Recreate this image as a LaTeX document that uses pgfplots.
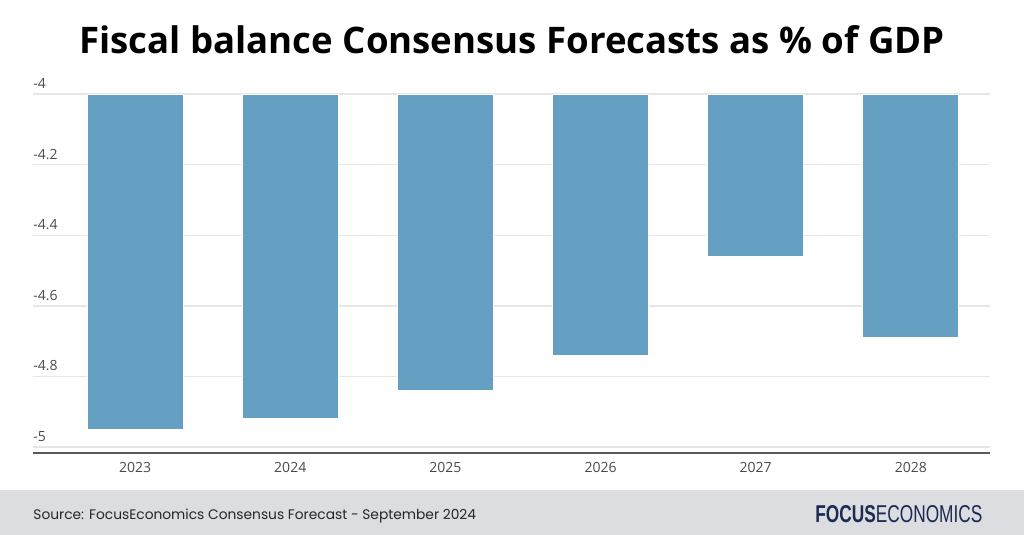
\documentclass[border=0pt]{standalone}
\usepackage{fontspec}
\setmainfont{Open Sans}
\newfontfamily\srcfont{Poppins}
\newfontfamily\logofont{Liberation Sans}
\usepackage{pgfplots}
\pgfplotsset{compat=1.18}
\definecolor{barblue}{HTML}{659FC1}
\definecolor{footgray}{HTML}{DCDDE1}
\definecolor{navy}{HTML}{1B2B50}
\definecolor{ticktext}{HTML}{4A4A4A}
\definecolor{gridc}{HTML}{E6E6E6}
\begin{document}
\begin{tikzpicture}
\useasboundingbox (0,0) rectangle (512pt,-267.5pt);
\fill[footgray] (0,-245pt) rectangle (512pt,-267.5pt);
\node[font=\fontsize{18.3}{22}\selectfont\bfseries] at (256pt,-20pt) {Fiscal balance Consensus Forecasts as \% of GDP};
\node[anchor=base west, font=\srcfont\fontsize{6.9}{8}\selectfont, text=black!85, inner sep=0pt] at (16.5pt,-259.5pt) {Source: FocusEconomics Consensus Forecast - September 2024};
\node[anchor=base west, inner sep=0pt, text=navy] at (407.5pt,-261pt) {\resizebox{83.5pt}{8.5pt}{\logofont\textbf{FOCUS}ECONOMICS}};
\begin{axis}[
  at={(16.5pt,-226.5pt)}, anchor=south west,
  scale only axis, width=478.5pt, height=179.5pt,
  xmin=-0.658, xmax=5.51, ymin=-5.017, ymax=-4,
  ybar, bar width=48pt,
  axis line style={draw=none},
  major tick length=0pt,
  ytick={-5,-4.8,-4.6,-4.4,-4.2,-4},
  yticklabels={-5,-4.8,-4.6,-4.4,-4.2,-4},
  xtick={0,1,2,3,4,5},
  xticklabels={2023,2024,2025,2026,2027,2028},
  ymajorgrids, grid style={gridc, line width=0.7pt},
  yticklabel style={anchor=south west, inner sep=0pt, yshift=2.5pt, font=\fontsize{7}{8}\selectfont, text=ticktext},
  xticklabel style={font=\fontsize{7}{8}\selectfont, text=ticktext, yshift=-1pt},
  clip=true,
]
\addplot[fill=barblue, draw=white, line width=0.4pt] coordinates {(0,-4.95) (1,-4.92) (2,-4.84) (3,-4.74) (4,-4.46) (5,-4.69)};
\draw[color=black!65, line width=0.8pt] (rel axis cs:0,0) -- (rel axis cs:1,0);
\end{axis}
\end{tikzpicture}
\end{document}
